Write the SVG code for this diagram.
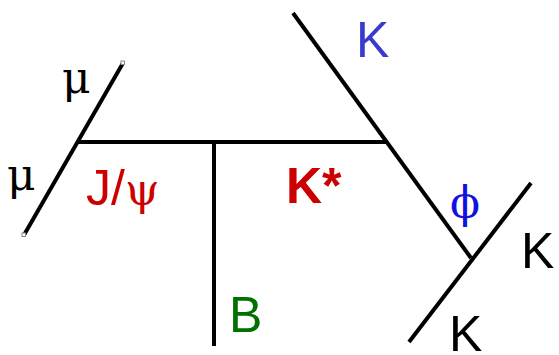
<svg xmlns="http://www.w3.org/2000/svg" width="559" height="355" viewBox="0 0 559 355">
<style>
.ln{stroke:#000;stroke-width:4;fill:none;stroke-linecap:butt}
.end{fill:#fff;stroke:#888;stroke-width:1}
.sans{font-family:"Liberation Sans",Arial,sans-serif;font-size:50px}
.serif{font-family:"DejaVu Serif",serif;font-size:44px}
</style>
<rect width="559" height="355" fill="#fff"/>
<g id="connectors">
<line class="ln" x1="24" y1="235" x2="123" y2="63"/>
<line class="ln" x1="78" y1="142" x2="388" y2="142"/>
<line class="ln" x1="214" y1="142" x2="214" y2="346"/>
<line class="ln" x1="293" y1="13" x2="471" y2="258"/>
<line class="ln" x1="409" y1="342" x2="531" y2="183"/>
<rect class="end" x="121" y="61" width="3.5" height="3.5"/>
<rect class="end" x="22" y="233" width="3.5" height="3.5"/>
</g>
<g id="mu1"><text class="serif" x="62" y="93">μ</text></g>
<g id="mu2"><text class="serif" x="7" y="190">μ</text></g>
<g id="jpsi"><text class="sans" x="86" y="205" fill="#cc0000">J/<tspan class="serif">ψ</tspan></text></g>
<g id="kstar"><text class="sans" x="286" y="203" fill="#cc0000" font-weight="bold">K*</text></g>
<g id="B"><text class="sans" x="229" y="332" fill="#007000">B</text></g>
<g id="K1"><text class="sans" x="356" y="57" fill="#3a3acc">K</text></g>
<g id="phi"><text class="serif" x="450" y="218" fill="#1010e0">ϕ</text></g>
<g id="K2"><text class="sans" x="521" y="268" fill="#000">K</text></g>
<g id="K3"><text class="sans" x="449" y="351" fill="#000">K</text></g>
</svg>
